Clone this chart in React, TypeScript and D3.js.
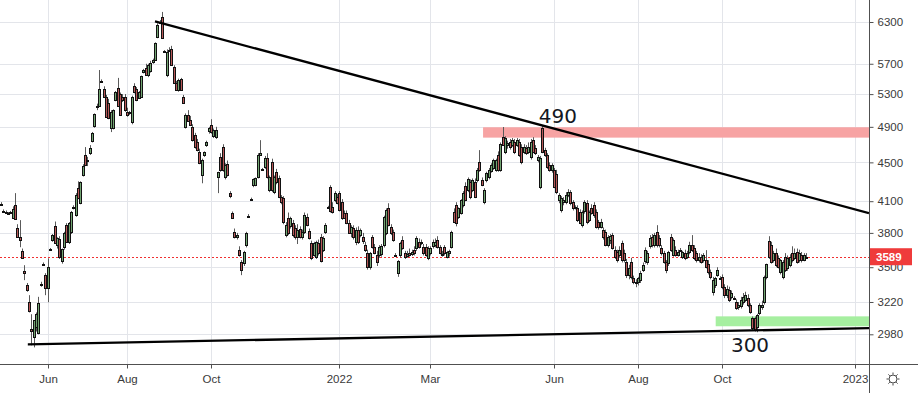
import React, { useEffect, useRef } from 'react';
import * as d3 from 'd3';

// daily candles (price units)
const opens = [
  4075, 4005, 3995, 3985, 3990, 3937, 4061, 3843, 3760, 3638, 3466, 3352, 3218, 3017, 2959, 3030, 2990, 3360, 3525, 3434,
  3330, 3655, 3740, 3862, 3690, 3745, 3552, 3672, 3870, 3718, 3807, 4040, 3965, 4230, 4080, 4364, 4579, 4510, 4600, 4735,
  4910, 5140, 5150, 5470, 5365, 5265, 5190, 4887, 4887, 5225, 5378, 5300, 5263, 5260, 5077, 5060, 4956, 5400, 5365, 5250,
  5263, 5590, 5642, 5548, 5600, 5730, 5751, 6078, 6300, 6376, 5870, 5548, 5891, 5905, 5656, 5443, 5352, 5495, 5263, 4898,
  5040, 4980, 4898, 4804, 4724, 4612, 4364, 4580, 4690, 4850, 4921, 4790, 4780, 4343, 4557, 4668, 4343, 4480, 4180, 3985,
  3807, 3762, 3646, 3543, 3535, 3690, 3958, 4120, 4261, 4261, 4343, 4580, 4428, 4449, 4546, 4210, 4503, 4190, 4396, 4333,
  4140, 4130, 3780, 3937, 3862, 3890, 3843, 3762, 3834, 3762, 3807, 3950, 3816, 3708, 3603, 3586, 3708, 3762, 3646, 3807,
  4040, 4241, 4040, 4110, 4140, 4180, 4090, 3985, 3985, 3890, 3798, 3843, 3717, 3825, 3780, 3762, 3690, 3620, 3500, 3762,
  3672, 3603, 3603, 3610, 3690, 3798, 4032, 3850, 3807, 3603, 3450, 3603, 3735, 3620, 3595, 3620, 3615, 3646, 3664, 3717,
  3708, 3672, 3672, 3578, 3620, 3680, 3690, 3735, 3672, 3610, 3672, 3586, 3620, 3672, 3994, 4061, 3946, 3985, 4061, 4251,
  4210, 4292, 4210, 4292, 4312, 4503, 4312, 4090, 4312, 4343, 4407, 4440, 4417, 4579, 4417, 4781, 4612, 4690, 4724, 4690,
  4724, 4690, 4724, 4668, 4612, 4656, 4612, 4557, 4746, 4656, 4524, 4241, 4890, 4634, 4579, 4470, 4417, 4417, 4380, 4110,
  4013, 4090, 4090, 4160, 4190, 4090, 4040, 4032, 3994, 3871, 4003, 4080, 3918, 4032, 4061, 3994, 3899, 3852, 3825, 3807,
  3690, 3735, 3780, 3646, 3629, 3603, 3708, 3620, 3543, 3434, 3543, 3410, 3380, 3377, 3393, 3475, 3552, 3543, 3680, 3762,
  3690, 3807, 3753, 3664, 3620, 3543, 3535, 3762, 3603, 3646, 3603, 3650, 3586, 3620, 3586, 3629, 3690, 3664, 3620, 3560,
  3586, 3560, 3560, 3530, 3458, 3297, 3352, 3434, 3410, 3418, 3336, 3273, 3313, 3257, 3250, 3218, 3180, 3187, 3218, 3234,
  3250, 3195, 3096, 3096, 3030, 3134, 3180, 3218, 3418, 3726, 3690, 3560, 3620, 3578, 3458, 3418, 3586, 3490, 3517, 3620,
  3578, 3629, 3560, 3603, 3560, 3586,
];
const highs = [
  4090, 4020, 4010, 3995, 4005, 4050, 4180, 3880, 3918, 3660, 3517, 3370, 3273, 3127, 3081, 3140, 3260, 3380, 3540, 3450,
  3575, 3665, 3790, 3905, 3760, 3770, 3660, 3810, 3890, 3900, 4005, 4060, 4180, 4300, 4300, 4480, 4668, 4560, 4690, 4840,
  5060, 5180, 5615, 5490, 5400, 5290, 5240, 5100, 5110, 5340, 5510, 5320, 5300, 5300, 5130, 5090, 5280, 5440, 5390, 5340,
  5540, 5630, 5700, 5700, 5740, 5770, 6000, 6280, 6330, 6454, 5890, 5900, 5930, 5950, 5680, 5470, 5500, 5510, 5290, 5060,
  5100, 5030, 4930, 4830, 4760, 4650, 4540, 4620, 4740, 4900, 4990, 4880, 4900, 4400, 4600, 4700, 4490, 4520, 4200, 4000,
  3840, 3800, 3680, 3560, 3640, 3810, 3975, 4135, 4330, 4340, 4600, 4746, 4440, 4570, 4600, 4360, 4540, 4360, 4430, 4360,
  4160, 4150, 3900, 3990, 3950, 3920, 3870, 3880, 3860, 3830, 3990, 3980, 3840, 3730, 3720, 3730, 3740, 3790, 3770, 3890,
  4055, 4260, 4090, 4200, 4170, 4200, 4120, 4010, 4010, 3920, 3870, 3870, 3850, 3860, 3840, 3800, 3720, 3650, 3630, 3780,
  3700, 3640, 3690, 3700, 3960, 4030, 4080, 3880, 3830, 3620, 3560, 3720, 3770, 3640, 3640, 3660, 3650, 3680, 3770, 3750,
  3740, 3700, 3700, 3680, 3680, 3740, 3750, 3770, 3690, 3640, 3690, 3640, 3650, 3820, 4030, 4090, 4040, 4120, 4200, 4290,
  4340, 4320, 4330, 4330, 4440, 4634, 4340, 4230, 4400, 4440, 4490, 4540, 4540, 4620, 4720, 4898, 4790, 4740, 4760, 4770,
  4760, 4770, 4760, 4700, 4700, 4690, 4720, 4760, 4780, 4690, 4580, 4570, 4910, 4660, 4600, 4500, 4490, 4440, 4420, 4180,
  4150, 4140, 4190, 4220, 4210, 4110, 4060, 4060, 4020, 4010, 4110, 4110, 4010, 4070, 4090, 4020, 3920, 3930, 3850, 3830,
  3780, 3790, 3800, 3680, 3650, 3680, 3730, 3650, 3570, 3520, 3580, 3430, 3400, 3420, 3470, 3540, 3670, 3640, 3780, 3790,
  3800, 3871, 3780, 3690, 3640, 3560, 3640, 3790, 3750, 3680, 3650, 3665, 3640, 3650, 3640, 3720, 3780, 3690, 3640, 3620,
  3610, 3620, 3646, 3560, 3480, 3420, 3420, 3500, 3425, 3440, 3360, 3350, 3340, 3310, 3265, 3240, 3220, 3260, 3290, 3300,
  3280, 3210, 3110, 3110, 3130, 3210, 3230, 3430, 3530, 3770, 3720, 3640, 3660, 3600, 3570, 3560, 3620, 3600, 3610, 3680,
  3660, 3660, 3650, 3630, 3620, 3620,
];
const lows = [
  4060, 3990, 3985, 3975, 3980, 3930, 3925, 3755, 3672, 3570, 3393, 3300, 3140, 2902, 2888, 3000, 2980, 3340, 3510, 3273,
  3218, 3640, 3720, 3705, 3660, 3570, 3530, 3650, 3710, 3700, 3790, 4020, 3950, 4120, 4070, 4350, 4460, 4460, 4580, 4720,
  4890, 5100, 5140, 5450, 5260, 5010, 4990, 4839, 4870, 5210, 5140, 5030, 5200, 5080, 5020, 5040, 4930, 5310, 5210, 5240,
  5250, 5570, 5540, 5520, 5580, 5700, 5740, 6060, 6290, 6050, 5850, 5520, 5870, 5670, 5430, 5340, 5330, 5340, 5180, 4880,
  4960, 4910, 4730, 4650, 4620, 4480, 4280, 4560, 4670, 4820, 4820, 4770, 4760, 4180, 4400, 4400, 4320, 4350, 4130, 3930,
  3750, 3740, 3590, 3434, 3510, 3670, 3945, 4105, 4240, 4250, 4330, 4570, 4415, 4430, 4330, 4190, 4190, 4170, 4270, 4130,
  4070, 3880, 3760, 3780, 3840, 3760, 3740, 3700, 3750, 3740, 3790, 3860, 3740, 3560, 3590, 3570, 3600, 3540, 3630, 3790,
  4025, 3990, 3980, 4090, 4070, 4000, 3920, 3930, 3880, 3790, 3760, 3740, 3690, 3700, 3760, 3700, 3630, 3480, 3480, 3660,
  3610, 3510, 3580, 3590, 3670, 3780, 3860, 3780, 3720, 3590, 3420, 3580, 3650, 3570, 3580, 3590, 3595, 3600, 3640, 3660,
  3690, 3600, 3590, 3560, 3600, 3660, 3670, 3660, 3610, 3590, 3600, 3575, 3590, 3660, 3890, 3860, 3930, 3970, 4040, 4100,
  4190, 4120, 4190, 4130, 4290, 4400, 4250, 4070, 4290, 4320, 4390, 4420, 4400, 4400, 4400, 4680, 4590, 4650, 4640, 4670,
  4590, 4670, 4560, 4480, 4590, 4580, 4590, 4530, 4600, 4580, 4500, 4220, 4600, 4560, 4430, 4400, 4390, 4230, 4170, 4080,
  3990, 4060, 4070, 4140, 4060, 4010, 4020, 3900, 3880, 3850, 3980, 3880, 3900, 3970, 3940, 3840, 3830, 3840, 3740, 3680,
  3670, 3700, 3650, 3570, 3540, 3580, 3540, 3540, 3410, 3400, 3400, 3360, 3336, 3350, 3370, 3460, 3530, 3520, 3660, 3670,
  3670, 3670, 3670, 3600, 3530, 3450, 3510, 3630, 3590, 3590, 3590, 3635, 3570, 3560, 3570, 3610, 3630, 3560, 3540, 3540,
  3530, 3540, 3490, 3440, 3400, 3270, 3330, 3420, 3395, 3320, 3250, 3250, 3220, 3240, 3240, 3160, 3160, 3170, 3200, 3220,
  3180, 3130, 3010, 3000, 2995, 3120, 3160, 3200, 3400, 3570, 3530, 3540, 3500, 3490, 3440, 3400, 3460, 3470, 3500, 3540,
  3560, 3530, 3540, 3540, 3550, 3575,
];
const closes = [
  4068, 4000, 3990, 3980, 3995, 4022, 3928, 3762, 3735, 3578, 3450, 3313, 3150, 3002, 3081, 3130, 3210, 3358, 3520, 3330,
  3500, 3650, 3780, 3712, 3752, 3586, 3655, 3798, 3718, 3890, 3994, 4032, 4160, 4130, 4292, 4460, 4470, 4524, 4655, 4827,
  5050, 5155, 5365, 5475, 5265, 5016, 5004, 5077, 5101, 5327, 5150, 5040, 5225, 5101, 5040, 5077, 5263, 5327, 5225, 5327,
  5530, 5615, 5548, 5683, 5710, 5751, 5991, 6255, 6300, 6063, 5863, 5863, 5895, 5683, 5443, 5352, 5482, 5352, 5187, 5040,
  4970, 4921, 4746, 4668, 4634, 4492, 4524, 4612, 4724, 4885, 4839, 4862, 4862, 4396, 4417, 4417, 4470, 4364, 4150, 3937,
  3762, 3780, 3603, 3475, 3629, 3798, 3958, 4120, 4322, 4333, 4579, 4600, 4428, 4546, 4343, 4343, 4210, 4343, 4292, 4140,
  4090, 3899, 3871, 3798, 3937, 3780, 3762, 3825, 3762, 3807, 3965, 3870, 3753, 3578, 3708, 3717, 3620, 3552, 3753, 3871,
  4040, 4003, 3994, 4180, 4080, 4013, 3937, 3937, 3890, 3798, 3852, 3762, 3825, 3717, 3825, 3726, 3646, 3500, 3620, 3672,
  3620, 3543, 3672, 3680, 3946, 4013, 3871, 3798, 3735, 3603, 3552, 3708, 3665, 3586, 3610, 3600, 3629, 3620, 3753, 3672,
  3717, 3620, 3603, 3664, 3664, 3717, 3717, 3672, 3620, 3603, 3620, 3629, 3635, 3807, 3899, 3890, 4032, 4110, 4180, 4110,
  4322, 4140, 4312, 4140, 4417, 4417, 4261, 4210, 4385, 4417, 4470, 4524, 4524, 4417, 4701, 4690, 4770, 4710, 4668, 4746,
  4612, 4746, 4579, 4503, 4668, 4600, 4668, 4724, 4612, 4600, 4557, 4546, 4612, 4579, 4449, 4417, 4470, 4241, 4190, 4160,
  4130, 4110, 4160, 4190, 4080, 4032, 4040, 3918, 3890, 3994, 4090, 3899, 3994, 3985, 3965, 3852, 3852, 3899, 3762, 3690,
  3762, 3771, 3664, 3586, 3560, 3646, 3560, 3560, 3434, 3491, 3418, 3377, 3377, 3410, 3450, 3517, 3646, 3620, 3753, 3690,
  3780, 3690, 3690, 3620, 3543, 3475, 3629, 3646, 3735, 3603, 3629, 3650, 3629, 3578, 3620, 3690, 3646, 3578, 3560, 3586,
  3543, 3603, 3500, 3458, 3418, 3393, 3410, 3475, 3410, 3336, 3273, 3320, 3234, 3290, 3250, 3172, 3195, 3234, 3257, 3273,
  3195, 3142, 3024, 3009, 3119, 3195, 3195, 3418, 3525, 3586, 3543, 3620, 3517, 3500, 3560, 3543, 3475, 3578, 3586, 3560,
  3620, 3543, 3620, 3560, 3603, 3589,
];

const priceTicks = [2980, 3220, 3500, 3800, 4100, 4500, 4900, 5300, 5700, 6300];
const dateLabels = ['Jun', 'Aug', 'Oct', '2022', 'Mar', 'Jun', 'Aug', 'Oct', '2023'];
const dateBars = [20, 54, 90, 145, 184, 237, 273, 309, 366];
const lastPrice = 3589;

// drawings: [bar, price]
const upperTrend = [[66, 6308], [372, 3985]];
const lowerTrend = [[11.5, 2909], [372, 3024]];
const resistZone = [206.6, 372, 4775, 4895];
const supportZone = [306.3, 372, 3038, 3111];
const notes = [
  { text: '490', bar: 238.7, price: 4944 },
  { text: '300', bar: 321, price: 2854 },
];

const W = 918;
const H = 393;
const plotW = 869;
const plotH = 364;
const font = "'Liberation Sans', Arial, sans-serif";

const App = () => {
  const ref = useRef<SVGSVGElement>(null);

  useEffect(() => {
    const svg = d3.select(ref.current);
    svg.selectAll('*').remove();

    const x = d3.scaleLinear().domain([0, closes.length - 1]).range([1, 806]);
    const y = d3.scaleLog().domain([2980, 6300]).range([334.3, 22]);
    const px = (v: number) => Math.round(v) + 0.5;

    svg.append('rect').attr('width', W).attr('height', H).attr('fill', '#fff');
    svg.append('defs').append('clipPath').attr('id', 'plotClip')
      .append('rect').attr('width', plotW).attr('height', plotH);

    // grid
    const grid = svg.append('g').attr('stroke', '#e3e5ea').attr('stroke-width', 1);
    priceTicks.forEach(t => {
      grid.append('line').attr('x1', 0).attr('x2', plotW)
        .attr('y1', px(y(t))).attr('y2', px(y(t)));
    });
    dateBars.forEach(b => {
      grid.append('line').attr('y1', 0).attr('y2', plotH)
        .attr('x1', px(x(b))).attr('x2', px(x(b)));
    });

    const plot = svg.append('g').attr('clip-path', 'url(#plotClip)');

    // zones
    [[resistZone, '#f7a3a3'], [supportZone, '#a6efa0']].forEach(([z, c]: any) => {
      plot.append('rect')
        .attr('x', x(z[0])).attr('width', x(z[1]) - x(z[0]))
        .attr('y', y(z[3])).attr('height', y(z[2]) - y(z[3]))
        .attr('fill', c);
    });

    // last price line
    plot.append('line')
      .attr('x1', 0).attr('x2', plotW)
      .attr('y1', px(y(lastPrice))).attr('y2', px(y(lastPrice)))
      .attr('stroke', '#f03030').attr('stroke-dasharray', '2,2');

    const bars = closes.map((c, i) => ({ i, o: opens[i], h: highs[i], l: lows[i], c }));

    plot.append('g').selectAll('line').data(bars).enter().append('line')
      .attr('x1', d => px(x(d.i))).attr('x2', d => px(x(d.i)))
      .attr('y1', d => y(d.h)).attr('y2', d => y(d.l))
      .attr('stroke', '#5a5a5a').attr('stroke-width', 1);

    plot.append('g').selectAll('rect').data(bars).enter().append('rect')
      .attr('x', d => Math.round(x(d.i)) - 0.5)
      .attr('width', 2)
      .attr('y', d => px(y(Math.max(d.o, d.c))))
      .attr('height', d => Math.max(1, Math.round(y(Math.min(d.o, d.c))) - Math.round(y(Math.max(d.o, d.c)))))
      .attr('fill', d => (d.c >= d.o ? '#72a572' : '#b65757'))
      .attr('stroke', '#111').attr('stroke-width', 1);

    // trend lines
    const trend = d3.line<number[]>().x(d => x(d[0])).y(d => y(d[1]));
    [upperTrend, lowerTrend].forEach(t => {
      plot.append('path').attr('d', trend(t)).attr('fill', 'none')
        .attr('stroke', '#000').attr('stroke-width', 2.3);
    });

    notes.forEach(n => {
      plot.append('text')
        .attr('x', x(n.bar)).attr('y', y(n.price))
        .attr('text-anchor', 'middle')
        .attr('font-family', "'DejaVu Sans', sans-serif")
        .attr('font-size', 20)
        .attr('fill', '#131722')
        .text(n.text);
    });

    // axes
    const yAxis = d3.axisRight(y).tickValues(priceTicks).tickFormat(d => String(d)).tickSize(4).tickPadding(4);
    const gy = svg.append('g').attr('transform', `translate(${plotW + 0.5},0)`).call(yAxis);
    const xAxis = d3.axisBottom(x).tickValues(dateBars).tickFormat((d, i) => dateLabels[i]).tickSize(4).tickPadding(6);
    const gx = svg.append('g').attr('transform', `translate(0,${plotH + 0.5})`).call(xAxis);
    [gx, gy].forEach(g => {
      g.select('.domain').remove();
      g.selectAll('.tick line').attr('stroke', '#505050');
      g.selectAll('.tick text')
        .attr('font-family', font).attr('font-size', 11.5).attr('fill', '#3a3a3a');
    });
    gx.selectAll('.tick').attr('transform', (d: any) => `translate(${px(x(d))},0)`);

    svg.append('line').attr('x1', plotW + 0.5).attr('x2', plotW + 0.5).attr('y1', 0).attr('y2', H)
      .attr('stroke', '#505050');
    svg.append('line').attr('x1', 0).attr('x2', W).attr('y1', plotH + 0.5).attr('y2', plotH + 0.5)
      .attr('stroke', '#505050');

    // last price tag
    const tagY = y(lastPrice);
    svg.append('rect').attr('x', plotW + 1).attr('y', tagY - 8.5).attr('width', 42).attr('height', 17)
      .attr('fill', '#ef3b3b');
    svg.append('text').attr('x', plotW + 7).attr('y', tagY).attr('dy', '0.35em')
      .attr('font-family', font).attr('font-size', 11.5).attr('font-weight', 'bold')
      .attr('fill', '#fff').text(String(lastPrice));

    // settings icon
    const icon = svg.append('g').attr('transform', 'translate(893,379)')
      .attr('stroke', '#444').attr('fill', 'none').attr('stroke-width', 1);
    icon.append('circle').attr('r', 4);
    d3.range(8).forEach(k => {
      const a = (k * Math.PI) / 4;
      icon.append('line')
        .attr('x1', Math.cos(a) * 4.5).attr('y1', Math.sin(a) * 4.5)
        .attr('x2', Math.cos(a) * 6.5).attr('y2', Math.sin(a) * 6.5);
    });
  }, []);

  return (
    <svg ref={ref} width={W} height={H} style={{ position: 'fixed', left: 0, top: 0 }}></svg>
  );
};

export default App;
